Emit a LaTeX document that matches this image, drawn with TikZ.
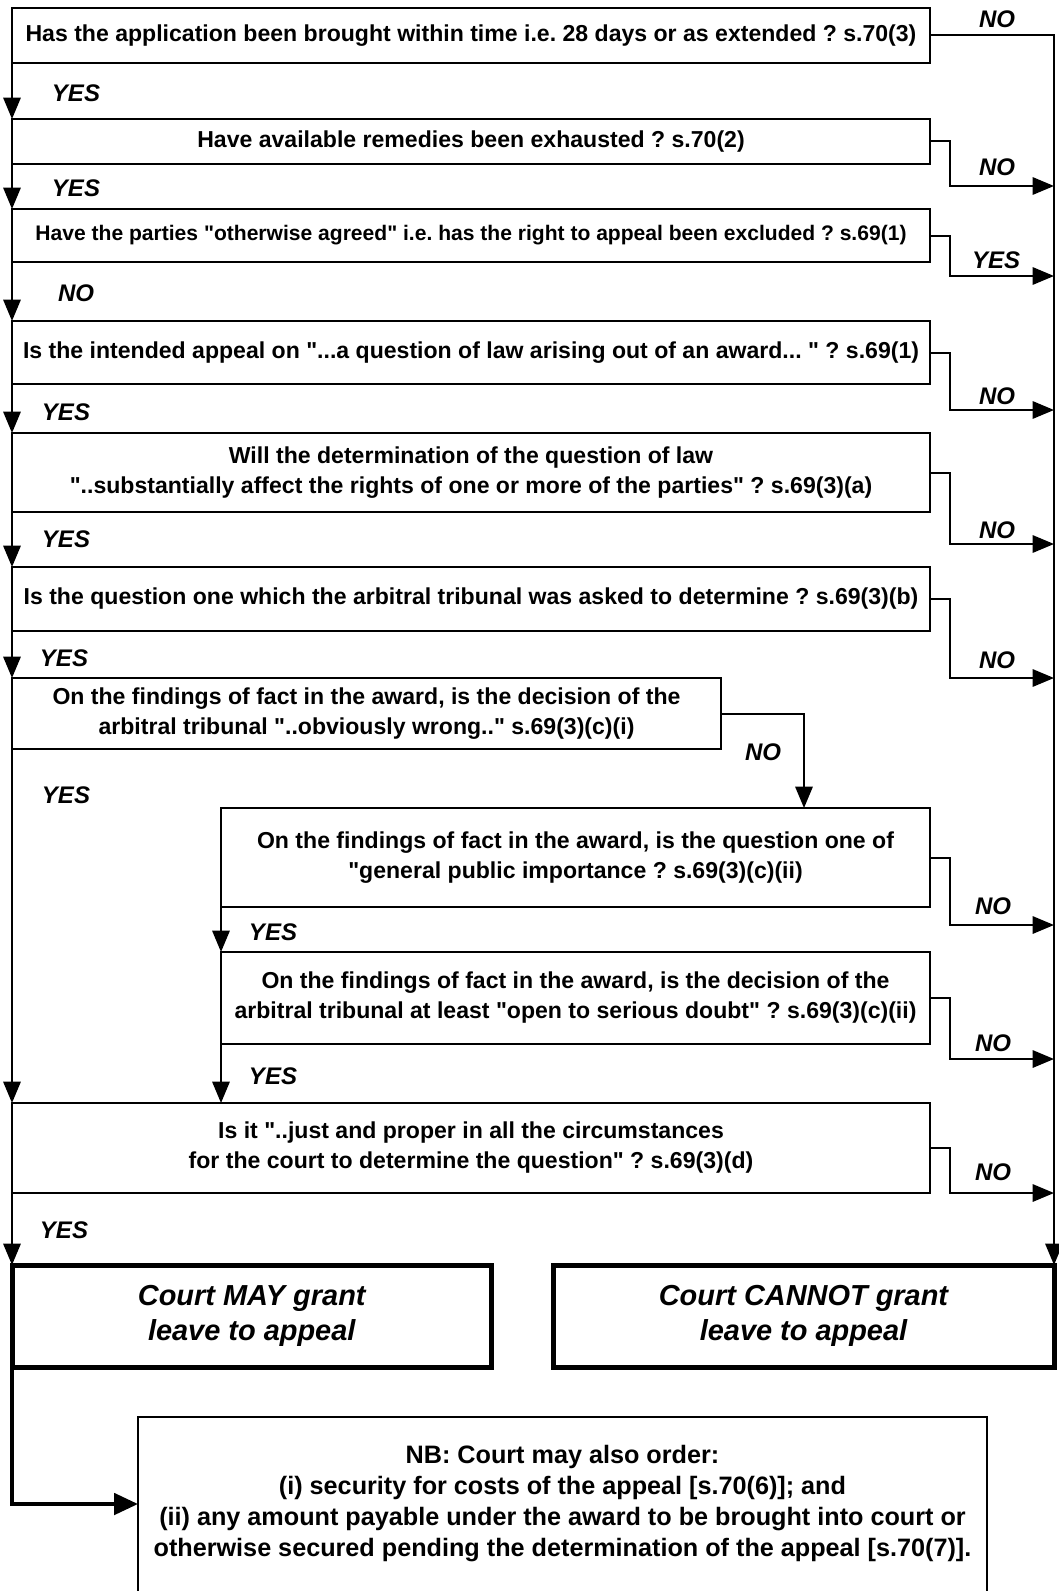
\documentclass[tikz,border=0pt]{standalone}
\usepackage{fontspec}
\setmainfont{Liberation Sans}[Ligatures=TeXOff]
\usetikzlibrary{arrows.meta,calc}
\frenchspacing
\begin{document}
\frenchspacing
\begin{tikzpicture}[x=0.75pt,y=-0.75pt,
  qbox/.style={draw, line width=1.7pt, inner sep=0pt, outer sep=0pt, align=center,
    font=\fontsize{17.3}{22.5}\selectfont\bfseries},
  endbox/.style={draw, line width=3.75pt, inner sep=0pt, outer sep=0pt, align=center,
    font=\fontsize{21.7}{26.25}\selectfont\bfseries\itshape},
  nbbox/.style={inner sep=0pt, outer sep=0pt, align=center,
    font=\fontsize{18.9}{23.25}\selectfont\bfseries},
  lbl/.style={font=\fontsize{18}{20}\selectfont\bfseries\itshape, inner sep=0pt},
  conn/.style={line width=1.5pt, -{Triangle[length=16pt,width=13pt]}},
  thickconn/.style={line width=3pt, -{Triangle[length=18pt,width=16pt]}}
]
\useasboundingbox[fill=white] (0,0) rectangle (1058,1591);

% question boxes
\node[qbox, minimum width=688.5pt, minimum height=41.25pt] (q1) at (471,35.5)
  {Has the application been brought within time i.e. 28 days or as extended ? s.70(3)};
\node[qbox, minimum width=688.5pt, minimum height=33.75pt] (q2) at (471,141.5)
  {Have available remedies been exhausted ? s.70(2)};
\node[qbox, minimum width=688.5pt, minimum height=39.75pt, font=\fontsize{15.8}{20}\selectfont\bfseries] (q3) at (471,235.5)
  {Have the parties "otherwise agreed" i.e. has the right to appeal been excluded ? s.69(1)};
\node[qbox, minimum width=688.5pt, minimum height=47.25pt] (q4) at (471,352.5)
  {Is the intended appeal on "...a question of law arising out of an award... " ? s.69(1)};
\node[qbox, minimum width=688.5pt, minimum height=59.25pt] (q5) at (471,472.5)
  {Will the determination of the question of law\\"..substantially affect the rights of one or more of the parties" ? s.69(3)(a)};
\node[qbox, minimum width=688.5pt, minimum height=48pt] (q6) at (471,599)
  {Is the question one which the arbitral tribunal was asked to determine ? s.69(3)(b)};
\node[qbox, minimum width=531.75pt, minimum height=53.25pt] (q7) at (366.5,713.5)
  {On the findings of fact in the award, is the decision of the\\arbitral tribunal "..obviously wrong.." s.69(3)(c)(i)};
\node[qbox, minimum width=531.75pt, minimum height=74.25pt] (q8) at (575.5,857.5)
  {On the findings of fact in the award, is the question one of\\"general public importance ? s.69(3)(c)(ii)};
\node[qbox, minimum width=531.75pt, minimum height=69pt] (q9) at (575.5,998)
  {On the findings of fact in the award, is the decision of the\\arbitral tribunal at least "open to serious doubt" ? s.69(3)(c)(ii)};
\node[qbox, minimum width=688.5pt, minimum height=67.5pt] (q10) at (471,1148)
  {Is it "..just and proper in all the circumstances\\for the court to determine the question" ? s.69(3)(d)};

% outcome boxes
\node[endbox, minimum width=358.9pt, minimum height=76.5pt] (may) at (251.75,1316)
  {Court MAY grant\\leave to appeal};
\node[endbox, minimum width=375.75pt, minimum height=76.5pt] (cannot) at (803.5,1316)
  {Court CANNOT grant\\leave to appeal};

% NB box (bottom edge lies outside the picture)
\node[nbbox, minimum width=636.75pt, minimum height=130.5pt] (nb) at (562.5,1504)
  {\rule{0pt}{6pt}NB: Court may also order:\\(i) security for costs of the appeal [s.70(6)]; and\\(ii) any amount payable under the award to be brought into court or\\otherwise secured pending the determination of the appeal [s.70(7)].};
\draw[line width=1.7pt] (nb.south west) -- (nb.north west) -- (nb.north east) -- (nb.south east);

% right-hand trunk points
\coordinate (t2) at (1054,186);
\coordinate (t3) at (1054,276);
\coordinate (t4) at (1054,410);
\coordinate (t5) at (1054,544);
\coordinate (t6) at (1054,678);
\coordinate (t8) at (1054,925);
\coordinate (t9) at (1054,1059);
\coordinate (t10) at (1054,1193);
\coordinate (n7) at (804,808);

% YES chain on the left
\draw[conn] (q1.south west) -- (q2.north west);
\draw[conn] (q2.south west) -- (q3.north west);
\draw[conn] (q3.south west) -- (q4.north west);
\draw[conn] (q4.south west) -- (q5.north west);
\draw[conn] (q5.south west) -- (q6.north west);
\draw[conn] (q6.south west) -- (q7.north west);
\draw[conn] (q7.south west) -- (q10.north west);
\draw[conn] (q8.south west) -- (q9.north west);
\draw[conn] (q9.south west) -- (q9.south west |- q10.north);
\draw[conn] (q10.south west) -- (q10.south west |- may.north);

% NO branch from q7 to q8
\draw[conn] (q7.east) -| (n7);

% right trunk and exits
\draw[conn] (q1.east) -| (cannot.north east);
\draw[conn] (q2.east) -- ++(20,0) |- (t2);
\draw[conn] (q3.east) -- ++(20,0) |- (t3);
\draw[conn] (q4.east) -- ++(20,0) |- (t4);
\draw[conn] (q5.east) -- ++(20,0) |- (t5);
\draw[conn] (q6.east) -- ++(20,0) |- (t6);
\draw[conn] (q8.east) -- ++(20,0) |- (t8);
\draw[conn] (q9.east) -- ++(20,0) |- (t9);
\draw[conn] (q10.east) -- ++(20,0) |- (t10);

% MAY -> NB
\draw[thickconn] (may.south west) |- (nb.west);

% labels
\node[lbl] (a1) at (997,19) {NO};
\node[lbl] (a2) at (997,167) {NO};
\node[lbl] (a3) at (996,260) {YES};
\node[lbl] (a4) at (997,396) {NO};
\node[lbl] (a5) at (997,530) {NO};
\node[lbl] (a6) at (997,660) {NO};
\node[lbl] (a7) at (763,752) {NO};
\node[lbl] (a8) at (993,906) {NO};
\node[lbl] (a9) at (993,1043) {NO};
\node[lbl] (a10) at (993,1172) {NO};
\node[lbl] (b1) at (76,93) {YES};
\node[lbl] (b2) at (76,188) {YES};
\node[lbl] (b3) at (76,293) {NO};
\node[lbl] (b4) at (66,412) {YES};
\node[lbl] (b5) at (66,539) {YES};
\node[lbl] (b6) at (64,658) {YES};
\node[lbl] (b7) at (66,795) {YES};
\node[lbl] (b8) at (273,932) {YES};
\node[lbl] (b9) at (273,1076) {YES};
\node[lbl] (b10) at (64,1230) {YES};
\end{tikzpicture}
\end{document}
